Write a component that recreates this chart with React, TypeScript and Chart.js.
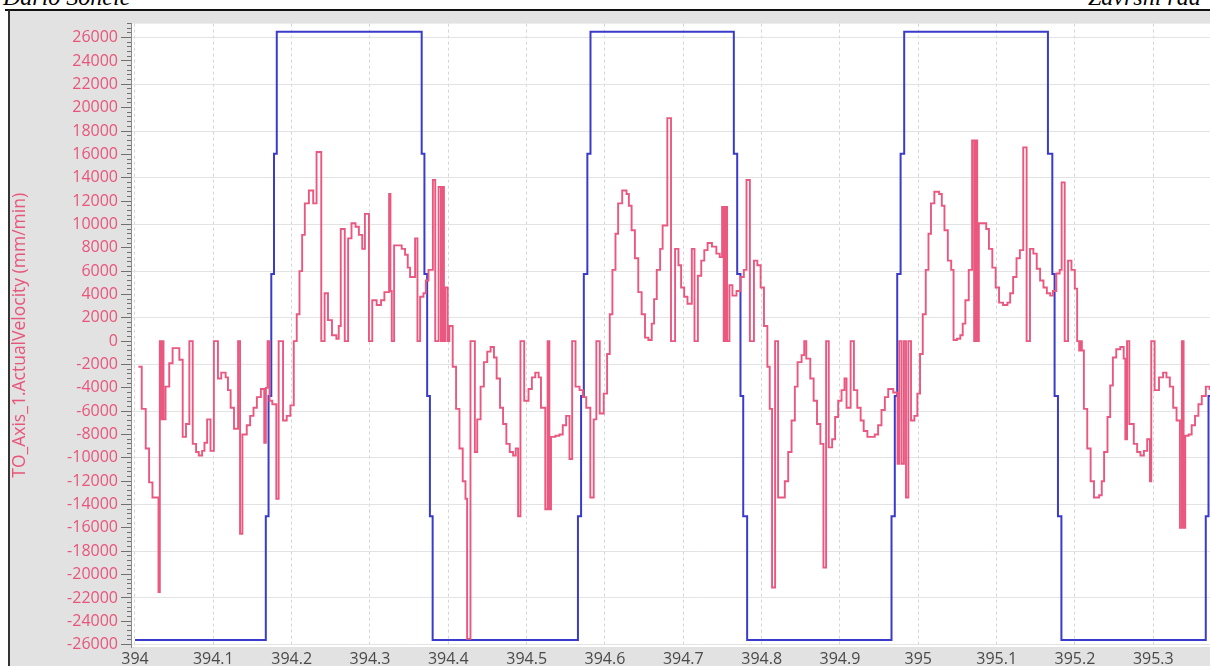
import React, { useEffect, useRef } from 'react';
import { Chart, registerables } from 'chart.js';

Chart.register(...registerables);

// ---- data ----
const Y_TITLE = 'TO_Axis_1.ActualVelocity (mm/min)';

const X_TICKS = [394, 394.1, 394.2, 394.3, 394.4, 394.5, 394.6, 394.7, 394.8, 394.9, 395, 395.1, 395.2, 395.3, 395.4];

const Y_TICKS = [
  26000, 24000, 22000, 20000, 18000, 16000, 14000, 12000, 10000, 8000, 6000, 4000, 2000, 0,
  -2000, -4000, -6000, -8000, -10000, -12000, -14000, -16000, -18000, -20000, -22000, -24000, -26000,
];

// ActualVelocity (red): time (s) at which each new value starts
const RED_T = [
  394.0043, 394.0086, 394.0137, 394.0180, 394.0223, 394.0300, 394.0317, 394.0334, 394.0347, 394.0364,
  394.0390, 394.0437, 394.0480, 394.0566, 394.0609, 394.0651, 394.0694, 394.0737, 394.0780, 394.0814,
  394.0857, 394.0887, 394.0921, 394.0964, 394.1007, 394.1059, 394.1101, 394.1157, 394.1187, 394.1221,
  394.1264, 394.1316, 394.1341, 394.1371, 394.1427, 394.1470, 394.1513, 394.1556, 394.1607, 394.1650,
  394.1671, 394.1693, 394.1718, 394.1753, 394.1804, 394.1834, 394.1890, 394.1937, 394.1984, 394.2027,
  394.2065, 394.2100, 394.2134, 394.2168, 394.2220, 394.2275, 394.2318, 394.2378, 394.2421, 394.2464,
  394.2515, 394.2571, 394.2601, 394.2627, 394.2678, 394.2721, 394.2764, 394.2815, 394.2858, 394.2901,
  394.2935, 394.2987, 394.3029, 394.3085, 394.3141, 394.3184, 394.3244, 394.3261, 394.3278, 394.3308,
  394.3405, 394.3448, 394.3482, 394.3512, 394.3576, 394.3606, 394.3640, 394.3683, 394.3713, 394.3747,
  394.3803, 394.3833, 394.3876, 394.3906, 394.3927, 394.3944, 394.3962, 394.3992, 394.4013, 394.4056,
  394.4099, 394.4142, 394.4184, 394.4219, 394.4240, 394.4283, 394.4339, 394.4369, 394.4412, 394.4454,
  394.4497, 394.4540, 394.4583, 394.4617, 394.4660, 394.4699, 394.4741, 394.4784, 394.4827, 394.4861,
  394.4891, 394.4921, 394.4969, 394.5024, 394.5067, 394.5110, 394.5153, 394.5183, 394.5238, 394.5268,
  394.5290, 394.5311, 394.5367, 394.5418, 394.5461, 394.5504, 394.5547, 394.5581, 394.5624, 394.5675,
  394.5718, 394.5761, 394.5813, 394.5856, 394.5890, 394.5933, 394.5984, 394.6027, 394.6061, 394.6095,
  394.6134, 394.6168, 394.6220, 394.6275, 394.6305, 394.6340, 394.6382, 394.6425, 394.6468, 394.6511,
  394.6554, 394.6597, 394.6627, 394.6661, 394.6704, 394.6736, 394.6796, 394.6843, 394.6895, 394.6938,
  394.6972, 394.7011, 394.7053, 394.7109, 394.7143, 394.7186, 394.7229, 394.7268, 394.7310, 394.7366,
  394.7422, 394.7465, 394.7495, 394.7516, 394.7537, 394.7559, 394.7589, 394.7627, 394.7679, 394.7730,
  394.7773, 394.7807, 394.7850, 394.7902, 394.7945, 394.7987, 394.8030, 394.8073, 394.8103, 394.8133,
  394.8172, 394.8210, 394.8296, 394.8339, 394.8382, 394.8424, 394.8459, 394.8510, 394.8544, 394.8570,
  394.8621, 394.8664, 394.8707, 394.8750, 394.8789, 394.8823, 394.8857, 394.8900, 394.8938, 394.8977,
  394.9020, 394.9058, 394.9084, 394.9136, 394.9178, 394.9221, 394.9264, 394.9303, 394.9350, 394.9444,
  394.9487, 394.9530, 394.9573, 394.9616, 394.9680, 394.9735, 394.9757, 394.9787, 394.9817, 394.9843,
  394.9873, 394.9907, 394.9950, 394.9988, 395.0022, 395.0057, 395.0095, 395.0130, 395.0162, 395.0205,
  395.0266, 395.0300, 395.0334, 395.0377, 395.0420, 395.0450, 395.0493, 395.0536, 395.0567, 395.0601,
  395.0644, 395.0687, 395.0713, 395.0730, 395.0752, 395.0773, 395.0867, 395.0902, 395.0945, 395.0988,
  395.1031, 395.1082, 395.1138, 395.1173, 395.1211, 395.1254, 395.1297, 395.1340, 395.1383, 395.1426,
  395.1469, 395.1512, 395.1555, 395.1598, 395.1641, 395.1684, 395.1719, 395.1762, 395.1805, 395.1830,
  395.1869, 395.1912, 395.1955, 395.1998, 395.2028, 395.2054, 395.2071, 395.2088, 395.2114, 395.2157,
  395.2200, 395.2243, 395.2308, 395.2342, 395.2372, 395.2415, 395.2450, 395.2484, 395.2527, 395.2579,
  395.2622, 395.2643, 395.2665, 395.2694, 395.2751, 395.2794, 395.2836, 395.2880, 395.2922, 395.2957,
  395.2974, 395.3017, 395.3073, 395.3125, 395.3168, 395.3211, 395.3254, 395.3297, 395.3340, 395.3365,
  395.3387, 395.3408, 395.3451, 395.3490, 395.3533, 395.3576, 395.3619, 395.3671, 395.3718, 395.3761,
  395.3850,
];

const RED_V = [
  -2200, -5800, -9200, -12100, -13400, -21500, 0, -6700, 0, -6700,
  -3900, -1900, -600, -1600, -8200, -7100, 0, -8800, -9500, -9800,
  -9400, -8700, -6700, -9400, 0, -3200, -2700, -3100, -4200, -5700,
  -7500, 0, -16500, -8000, -7200, -6400, -5700, -4800, -4100, -8700,
  -4000, 0, -5100, -5400, -13500, 0, -6800, -6400, -5500, 0,
  2300, 6000, 9100, 11800, 12900, 11800, 16200, 0, 4100, 1800,
  500, 200, 1300, 9600, 0, 8800, 10100, 9800, 9100, 7900,
  10900, 0, 3500, 3100, 3500, 4200, 12600, 4300, 0, 8200,
  7900, 7400, 6300, 5500, 8800, 0, 3800, 4100, 5200, 6100,
  13800, 0, 13200, 0, 13200, 0, 4600, 0, 1300, -2200,
  -5800, -9200, -12000, -13500, -25500, 0, -9500, -6700, -3900, -1800,
  -900, -500, -1400, -3200, -5700, -7100, -8800, -9500, -9800, -9200,
  -15000, 0, -5100, -4100, -3100, -2700, -3100, -5700, -14400, 0,
  -14400, -8200, -8100, -8000, -7200, -6400, -10100, 0, -3900, -4200,
  -4800, -5700, -13400, -6700, 0, -6200, -4500, -1100, 2300, 6100,
  9200, 11800, 12900, 12600, 11600, 9500, 7100, 4200, 2300, 300,
  100, 1500, 3600, 6100, 7900, 9900, 19100, 0, 7900, 6500,
  4600, 3800, 3200, 7900, 0, 5600, 6900, 7800, 8400, 8100,
  7500, 7200, 11500, 0, 11500, 0, 4800, 3900, 4300, 5500,
  6100, 13800, 0, 6900, 6500, 4600, 1300, -2200, -5800, -21100,
  0, -13400, -12000, -9500, -6800, -3900, -1800, -1200, 0, -1500,
  -3200, -5100, -7100, -8800, -19400, 0, -9100, -8400, -6500, -5100,
  -4200, -3200, -5700, 0, -4200, -5700, -6800, -7700, -8200, -8000,
  -7200, -5900, -4800, -4100, -4400, -10500, 0, -10500, 0, -13400,
  0, -6800, -6400, -4500, -1100, 2300, 6100, 9200, 11800, 12800,
  12600, 11600, 9500, 6900, 6100, 100, 200, 500, 1500, 3500,
  6100, 17200, 0, 17200, 0, 10100, 9600, 7900, 6300, 4600,
  3300, 3100, 3300, 4100, 5500, 7100, 7800, 16600, 0, 7900,
  7500, 6200, 5200, 4600, 4100, 3900, 4300, 5800, 6100, 13600,
  0, 6900, 6100, 4500, 0, -800, 0, -800, -5800, -9200,
  -12000, -13400, -13200, -12000, -9500, -6500, -3800, -1400, -700, -500,
  -1500, -8400, 0, -7100, -8800, -9500, -9800, -9400, -8400, -12000,
  0, -4200, -3100, -2700, -3100, -3900, -5700, -6800, -16000, 0,
  -16000, -8100, -8000, -7200, -6400, -5400, -4700, -3900, -4100, -4500,
  -5000,
];

// Set velocity (blue): time (s) at which each new value starts
const BLUE_T = [
  394.0, 394.1670, 394.1705, 394.1740, 394.1775, 394.1810,
  394.3660, 394.3695, 394.3730, 394.3765, 394.3800,
  394.5655, 394.5695, 394.5730, 394.5775, 394.5815,
  394.7645, 394.7688, 394.7730, 394.7765, 394.7815,
  394.9658, 394.9700, 394.9731, 394.9774, 394.9820,
  395.1655, 395.1711, 395.1740, 395.1783, 395.1827,
  395.3670, 395.3705, 395.3740, 395.3775, 395.3810, 395.45,
];
const BLUE_V = [
  -25600, -15000, -4700, 5750, 16050, 26500,
  16050, 5750, -4700, -15000, -25600,
  -15000, -4700, 5750, 16050, 26500,
  16050, 5750, -4700, -15000, -25600,
  -15000, -4700, 5750, 16050, 26500,
  16050, 5750, -4700, -15000, -25600,
  -15000, -4700, 5750, 16050, 26500, 26500,
];

const X_MIN = 393.9949;
const X_MAX = 395.449;
const Y_MIN = -26200;
const Y_MAX = 27200;

const PINK = '#e8557b';
const RED = '#ea5880';
const BLUE = '#3a3acb';
const FONT = "'Open Sans', 'Noto Sans', sans-serif";

export default function App() {
  const ref = useRef<HTMLCanvasElement>(null);

  useEffect(() => {
    const canvas = ref.current;
    if (!canvas) return;
    const red = RED_T.map((t, i) => ({ x: t, y: RED_V[i] }));
    const blue = BLUE_T.map((t, i) => ({ x: t, y: BLUE_V[i] }));
    const minorTicks: { value: number }[] = [];
    for (let v = -26000; v <= Y_MAX; v += 400) minorTicks.push({ value: v });

    const plotBg = {
      id: 'plotBg',
      beforeDraw(chart: any) {
        const { ctx, chartArea: a } = chart;
        ctx.save();
        ctx.fillStyle = '#ffffff';
        ctx.fillRect(a.left, a.top, a.right - a.left, a.bottom - a.top);
        ctx.restore();
      },
    };

    const chart = new Chart(canvas, {
      type: 'line',
      data: {
        datasets: [
          {
            label: 'ActualVelocity',
            data: red,
            borderColor: RED,
            borderWidth: 1.9,
            pointRadius: 0,
            stepped: true,
            fill: false,
            yAxisID: 'y',
          },
          {
            label: 'Velocity',
            data: blue,
            borderColor: BLUE,
            borderWidth: 2,
            pointRadius: 0,
            stepped: true,
            fill: false,
            yAxisID: 'y',
          },
        ],
      },
      options: {
        animation: false,
        responsive: false,
        devicePixelRatio: 1,
        layout: { padding: { top: 7, left: 0, right: 0, bottom: 0 } },
        plugins: { legend: { display: false }, tooltip: { enabled: false } },
        scales: {
          x: {
            type: 'linear',
            min: X_MIN,
            max: X_MAX,
            afterBuildTicks: (s: any) => {
              s.ticks = X_TICKS.map((value) => ({ value }));
            },
            afterFit: (s: any) => {
              s.height = 34;
            },
            grid: { color: '#d4d4d4', lineWidth: 1, drawTicks: false },
            border: { display: false, dash: [3, 3] },
            ticks: {
              autoSkip: false,
              maxRotation: 0,
              padding: 3,
              color: '#4a4a4a',
              font: { family: FONT, size: 16 },
              callback: (v: any) => String(Math.round(Number(v) * 10) / 10),
            },
          },
          y: {
            type: 'linear',
            position: 'left',
            weight: 1,
            min: Y_MIN,
            max: Y_MAX,
            afterBuildTicks: (s: any) => {
              s.ticks = Y_TICKS.map((value) => ({ value }));
            },
            afterFit: (s: any) => {
              s.width = 117;
            },
            grid: {
              color: (c: any) =>
                c.tick && Math.abs(c.tick.value) % 4000 === 2000 ? '#e3e3e3' : 'rgba(0,0,0,0)',
              tickColor: '#707070',
              tickLength: 6,
              drawTicks: true,
            },
            border: { display: false },
            ticks: {
              autoSkip: false,
              padding: 3,
              color: PINK,
              font: { family: FONT, size: 16 },
              callback: (v: any) => String(v),
            },
            title: {
              display: true,
              text: Y_TITLE,
              color: PINK,
              font: { family: FONT, size: 17.5 },
              padding: { top: 0, bottom: 0 },
            },
          },
          yMinor: {
            type: 'linear',
            position: 'left',
            weight: 0,
            min: Y_MIN,
            max: Y_MAX,
            afterBuildTicks: (s: any) => {
              s.ticks = minorTicks;
            },
            afterFit: (s: any) => {
              s.width = 4;
            },
            grid: { drawOnChartArea: false, tickColor: '#707070', tickLength: 4 },
            border: { display: true, color: '#8a8a8a', width: 1 },
            ticks: { display: false },
          },
        },
      } as any,
      plugins: [plotBg],
    });
    return () => chart.destroy();
  }, []);

  return (
    <div
      style={{
        position: 'fixed',
        left: 0,
        top: 0,
        width: 1210,
        height: 666,
        overflow: 'hidden',
        background: '#ffffff',
      }}
    >
      <div
        style={{
          position: 'absolute',
          left: 3,
          top: -15,
          fontFamily: "'Liberation Serif', 'DejaVu Serif', serif",
          fontStyle: 'italic',
          fontSize: 24,
          lineHeight: '24px',
          whiteSpace: 'nowrap',
          color: '#000',
        }}
      >
        Dario Soncic
      </div>
      <div
        style={{
          position: 'absolute',
          left: 1088,
          top: -15,
          fontFamily: "'Liberation Serif', 'DejaVu Serif', serif",
          fontStyle: 'italic',
          fontSize: 24,
          lineHeight: '24px',
          whiteSpace: 'nowrap',
          color: '#000',
        }}
      >
        Završni rad
      </div>
      <div style={{ position: 'absolute', left: 9, top: 11, width: 1300, height: 700, background: '#e2e2e2' }} />
      <div style={{ position: 'absolute', left: 5, top: 9, width: 1300, height: 2, background: '#111' }} />
      <div style={{ position: 'absolute', left: 8, top: 10, width: 2, height: 700, background: '#333' }} />
      <canvas
        ref={ref}
        width={1260}
        height={670}
        style={{ position: 'absolute', left: 10, top: 11, width: 1260, height: 670 }}
      />
    </div>
  );
}
